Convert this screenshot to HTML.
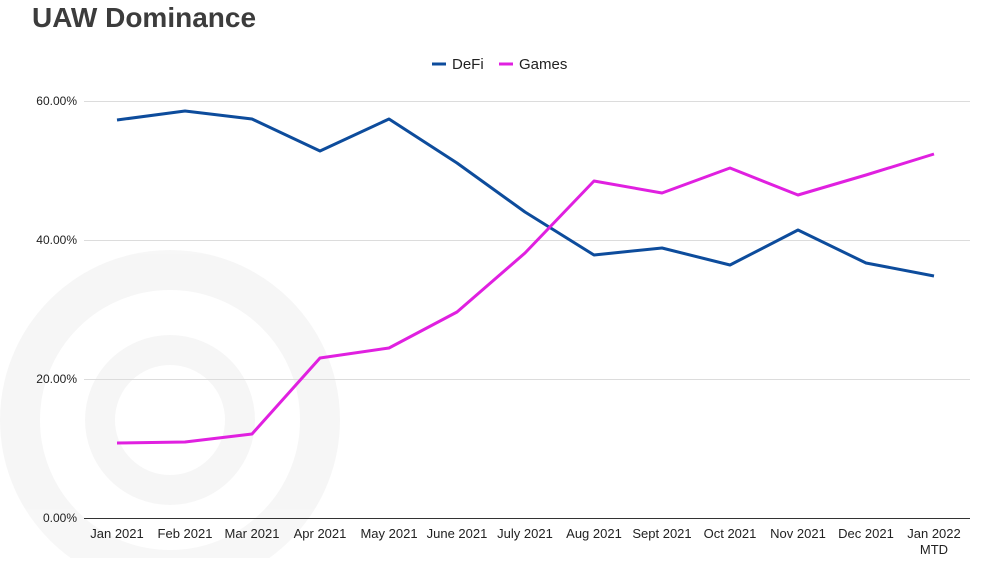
<!DOCTYPE html>
<html><head><meta charset="utf-8"><style>
html,body{margin:0;padding:0;background:#fff;}
body{width:1000px;height:558px;overflow:hidden;font-family:"Liberation Sans",Arial,sans-serif;}
</style></head><body>
<svg width="1000" height="558" xmlns="http://www.w3.org/2000/svg" font-family="Liberation Sans, Arial, sans-serif">
<rect width="1000" height="558" fill="#fff"/>
<g opacity="0.03" fill="none" stroke="#000">
<circle cx="170" cy="420" r="150" stroke-width="40"/>
<circle cx="170" cy="420" r="70" stroke-width="30"/>
</g>
<text x="32" y="27" font-size="28" font-weight="bold" fill="#3c3c3c">UAW Dominance</text>
<g font-size="15" fill="#222">
<line x1="432" y1="64" x2="446" y2="64" stroke="#0d4c9c" stroke-width="3"/>
<text x="452" y="69">DeFi</text>
<line x1="499" y1="64" x2="513" y2="64" stroke="#e020e0" stroke-width="3"/>
<text x="519" y="69">Games</text>
</g>
<g stroke="#dcdcdc" stroke-width="1">
<line x1="84" y1="101.5" x2="970" y2="101.5"/>
<line x1="84" y1="240.5" x2="970" y2="240.5"/>
<line x1="84" y1="379.5" x2="970" y2="379.5"/>
</g>
<line x1="84" y1="518.5" x2="970" y2="518.5" stroke="#333" stroke-width="1"/>
<g font-size="12" fill="#222" text-anchor="end">
<text x="77" y="105">60.00%</text>
<text x="77" y="244">40.00%</text>
<text x="77" y="383">20.00%</text>
<text x="77" y="522">0.00%</text>
</g>
<g font-size="13" fill="#222" text-anchor="middle">
<text x="117" y="538">Jan 2021</text>
<text x="185" y="538">Feb 2021</text>
<text x="252" y="538">Mar 2021</text>
<text x="320" y="538">Apr 2021</text>
<text x="389" y="538">May 2021</text>
<text x="457" y="538">June 2021</text>
<text x="525" y="538">July 2021</text>
<text x="594" y="538">Aug 2021</text>
<text x="662" y="538">Sept 2021</text>
<text x="730" y="538">Oct 2021</text>
<text x="798" y="538">Nov 2021</text>
<text x="866" y="538">Dec 2021</text>
<text x="934" y="538">Jan 2022</text>
<text x="934" y="554">MTD</text>
</g>
<polyline fill="none" stroke="#0d4c9c" stroke-width="3" stroke-linejoin="round" points="117,120 185,111 252,119 320,151 389,119 457,163 525,212 594,255 662,248 730,265 798,230 866,263 934,276"/>
<polyline fill="none" stroke="#e020e0" stroke-width="3" stroke-linejoin="round" points="117,443 185,442 252,434 320,358 389,348 457,312 525,253 594,181 662,193 730,168 798,195 866,175 934,154"/>
</svg>
</body></html>
